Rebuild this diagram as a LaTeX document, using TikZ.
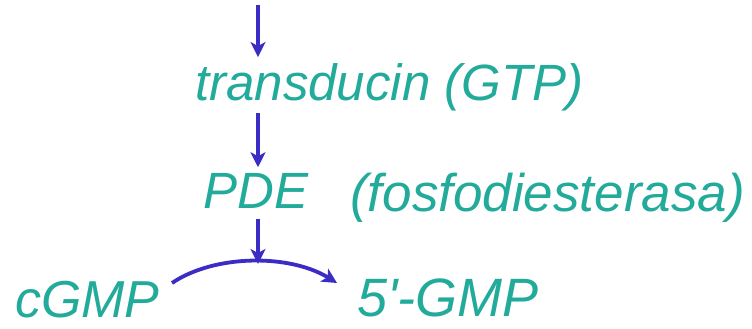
\documentclass[tikz,border=0pt]{standalone}
\usepackage{fontspec}
\setmainfont{Liberation Sans}
\newfontfamily\handfont{Liberation Sans}
\usetikzlibrary{arrows.meta}
\definecolor{teal1}{HTML}{22AA9A}
\definecolor{blu1}{HTML}{3A2CC4}
\tikzset{
  lbl/.style={text=teal1, font=\handfont\fontsize{#1}{#1}\selectfont\itshape, inner sep=0pt, anchor=west},
  flow/.style={draw=blu1, line width=3.8pt, -{Stealth[length=15pt,width=15pt,inset=4pt]}}
}
\begin{document}
\begin{tikzpicture}[x=1pt,y=-1pt]
\useasboundingbox (0,0) rectangle (752,329);
\coordinate (top) at (258,5);
\node[lbl=51] (trans) at (195,87) {transducin (GTP)};
\node[lbl=51] (pde) at (203,191) {PDE};
\node[lbl=53] (fos) at (350,198) {(fosfodiesterasa)};
\node[lbl=52] (cgmp) at (15,300) {cGMP};
\node[lbl=54] (gmp5) at (357,298) {5'-GMP};
\coordinate (c1) at (172,283);
\coordinate (c2) at (337,283);
\coordinate (peak) at (258,264);
\draw[flow] (top) -- ([yshift=6pt]top|-trans.north);
\draw[flow] ([yshift=-2pt]top|-trans.south) -- ([yshift=6pt]top|-pde.north);
\draw[flow] ([yshift=-10pt]top|-pde.south) -- (peak);
\draw[flow] (c1) .. controls (215,254) and (290,254) .. (c2);
\end{tikzpicture}
\end{document}
